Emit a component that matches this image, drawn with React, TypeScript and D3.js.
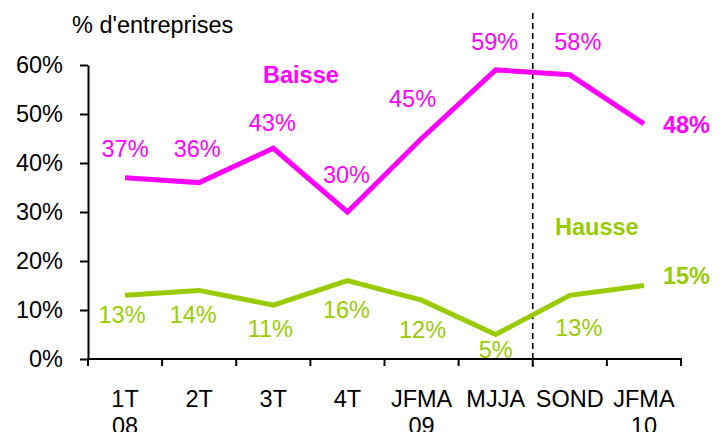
import { useEffect, useRef } from 'react';
import * as d3 from 'd3';

// categories (multi-line tick labels split on \n)
const categories = ['1T\n08', '2T', '3T', '4T', 'JFMA\n09', 'MJJA', 'SOND', 'JFMA\n10'];
const baisse = [37, 36, 43, 30, 45, 59, 58, 48];
const hausse = [13, 14, 11, 16, 12, 5, 13, 15];
const yTicks = [0, 10, 20, 30, 40, 50, 60];

// manual label nudges (px) — the source chart had hand-placed labels
const baisseNudge = [[0, -21], [-2, -26], [-1, -17], [-1, -29], [-9, -32], [-1, -20], [8, -25]];
const hausseNudge = [[-3, 28], [-6, 33], [-3, 32], [-1, 37], [1, 38], [0, 23], [9, 41]];

const W = 726;
const H = 432;
const margin = { top: 65, right: 45, bottom: 73, left: 88 };
const MAGENTA = '#FF00FF';
const GREEN = '#99CC00';
const FONT = '"Liberation Sans", Arial, sans-serif';
const FS = 23.5;

export default function App() {
    const svgRef = useRef<SVGSVGElement>(null);

    useEffect(() => {
        const svg = d3.select(svgRef.current);
        svg.selectAll('*').remove();

        const x = d3.scaleBand<string>()
            .domain(categories)
            .range([margin.left, W - margin.right]);
        const y = d3.scaleLinear()
            .domain([0, 60])
            .range([H - margin.bottom, margin.top]);
        const cx = (i: number) => (x(categories[i]) as number) + x.bandwidth() / 2;
        const y0 = y(0);

        svg.append('text')
            .attr('x', 72)
            .attr('y', 33)
            .style('font-family', FONT)
            .style('font-size', `${FS}px`)
            .text("% d'entreprises");

        // y axis
        const yAxis = svg.append('g')
            .attr('transform', `translate(${margin.left},0)`)
            .call(d3.axisLeft(y).tickValues(yTicks).tickSize(8).tickSizeOuter(0).tickPadding(17).tickFormat(d => `${d}%`));
        yAxis.select('.domain').attr('stroke', '#000').attr('stroke-width', 2);
        yAxis.selectAll('.tick line').attr('stroke', '#000').attr('stroke-width', 2);
        yAxis.selectAll('.tick text')
            .attr('fill', '#000')
            .style('font-family', FONT)
            .style('font-size', `${FS}px`);

        // x axis: line + ticks at band boundaries
        const xa = svg.append('g');
        xa.append('line')
            .attr('x1', margin.left - 1).attr('x2', W - margin.right + 1)
            .attr('y1', y0).attr('y2', y0)
            .attr('stroke', '#000').attr('stroke-width', 2);
        const bounds = categories.map(c => x(c) as number).concat([W - margin.right]);
        xa.selectAll('.xt')
            .data(bounds)
            .enter()
            .append('line')
            .attr('x1', d => d).attr('x2', d => d)
            .attr('y1', y0).attr('y2', y0 + 7)
            .attr('stroke', '#000').attr('stroke-width', 2);
        categories.forEach((c, i) => {
            const t = xa.append('text')
                .attr('x', cx(i))
                .attr('y', y0 + 48)
                .attr('text-anchor', 'middle')
                .style('font-family', FONT)
                .style('font-size', `${FS}px`);
            c.split('\n').forEach((ln, j) => {
                t.append('tspan').attr('x', cx(i)).attr('dy', j === 0 ? 0 : 27).text(ln);
            });
        });

        // dashed separator between MJJA and SOND
        const sepX = x('SOND') as number;
        svg.append('line')
            .attr('x1', sepX).attr('x2', sepX)
            .attr('y1', 13).attr('y2', y0 + 8)
            .attr('stroke', '#000')
            .attr('stroke-width', 1.6)
            .attr('stroke-dasharray', '6,4');

        const line = d3.line<number>()
            .x((_, i) => cx(i))
            .y(d => y(d));

        svg.append('path')
            .datum(baisse)
            .attr('fill', 'none')
            .attr('stroke', MAGENTA)
            .attr('stroke-width', 5)
            .attr('stroke-linejoin', 'miter')
            .attr('d', line);

        svg.append('path')
            .datum(hausse)
            .attr('fill', 'none')
            .attr('stroke', GREEN)
            .attr('stroke-width', 5)
            .attr('stroke-linejoin', 'miter')
            .attr('d', line);

        const addLabels = (vals: number[], nudge: number[][], color: string) => {
            vals.forEach((v, i) => {
                const last = i === vals.length - 1;
                const t = svg.append('text')
                    .attr('fill', color)
                    .style('font-family', FONT)
                    .style('font-size', `${FS}px`)
                    .text(`${v}%`);
                if (last) {
                    t.attr('x', cx(i) + 19)
                        .attr('y', y(v) + (color === MAGENTA ? 9 : -2))
                        .style('font-weight', 'bold');
                } else {
                    t.attr('x', cx(i) + nudge[i][0])
                        .attr('y', y(v) + nudge[i][1])
                        .attr('text-anchor', 'middle');
                }
            });
        };
        addLabels(baisse, baisseNudge, MAGENTA);
        addLabels(hausse, hausseNudge, GREEN);

        // series names
        svg.append('text')
            .attr('x', 263).attr('y', 83)
            .attr('fill', MAGENTA)
            .style('font-family', FONT)
            .style('font-size', `${FS}px`)
            .style('font-weight', 'bold')
            .text('Baisse');
        svg.append('text')
            .attr('x', 555).attr('y', 235)
            .attr('fill', GREEN)
            .style('font-family', FONT)
            .style('font-size', `${FS}px`)
            .style('font-weight', 'bold')
            .text('Hausse');
    }, []);

    return (
        <svg
            ref={svgRef}
            width={W}
            height={H}
            style={{ position: 'absolute', left: 0, top: 0, background: '#fff' }}
        />
    );
}
